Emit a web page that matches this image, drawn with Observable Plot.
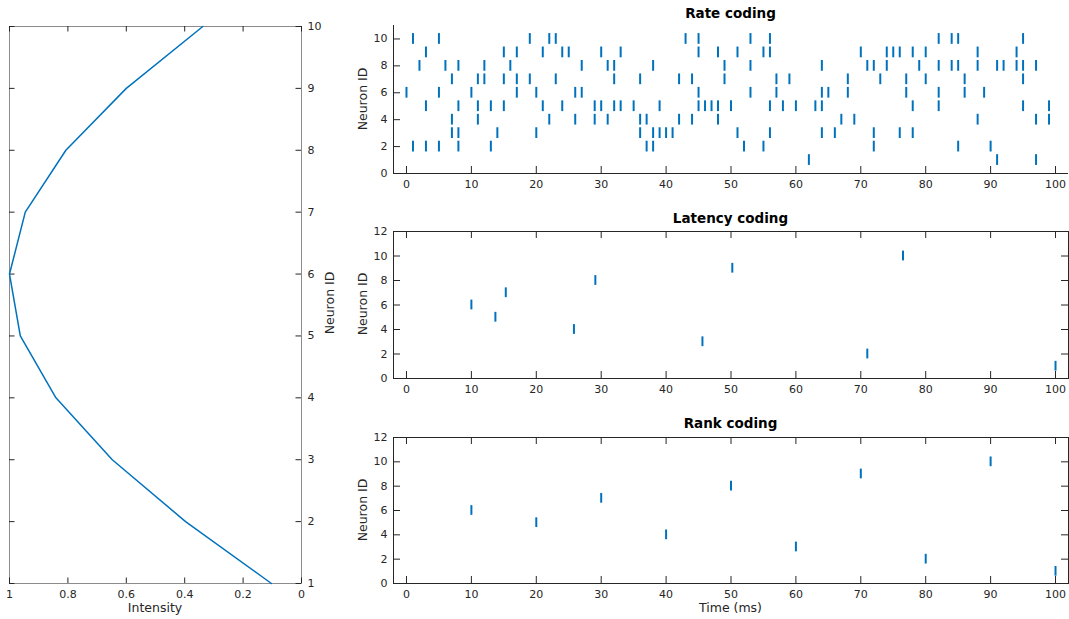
<!DOCTYPE html>
<html><head><meta charset="utf-8">
<script src="https://cdn.jsdelivr.net/npm/d3@7"></script>
<script src="https://cdn.jsdelivr.net/npm/@observablehq/plot@0.6"></script>
<style>
body{margin:0;background:#fff;}
#fig{position:relative;width:1069px;height:619px;overflow:hidden;font-family:"DejaVu Sans",sans-serif;background:#fff;}
.t{position:absolute;white-space:nowrap;line-height:1;color:#262626;transform:translate(-50%,-50%);}
.title{font-weight:bold;font-size:13.5px;color:#000;}
.lab{font-size:12.5px;}
.rot{transform:translate(-50%,-50%) rotate(-90deg);}
</style></head><body><div id="fig"></div>
<script>
// ---------- data ----------
const neuronIds = [1, 2, 3, 4, 5, 6, 7, 8, 9, 10];
const intensity = [0.103, 0.397, 0.648, 0.841, 0.963, 1.0, 0.946, 0.807, 0.600, 0.338];

// Rate coding spike times (ms) for each neuron
const rateN1 = [62, 91, 97];
const rateN2 = [1, 3, 5, 8, 13, 37, 38, 52, 55, 72, 85, 90];
const rateN3 = [7, 8, 14, 20, 36, 38, 39, 40, 41, 51, 56, 64, 66, 72, 76, 78];
const rateN4 = [7, 11, 22, 26, 29, 31, 36, 37, 42, 44, 48, 67, 69, 88, 97, 99];
const rateN5 = [3, 8, 11, 13, 15, 21, 24, 29, 30, 32, 33, 35, 39, 45, 46, 47, 48, 50, 56, 58, 60, 63, 64, 78, 82, 95, 99];
const rateN6 = [0, 5, 10, 17, 20, 26, 27, 45, 53, 57, 64, 65, 68, 77, 82, 86, 89];
const rateN7 = [7, 11, 12, 15, 17, 19, 23, 32, 36, 42, 44, 49, 57, 59, 68, 73, 77, 80, 86, 95];
const rateN8 = [2, 6, 8, 12, 16, 27, 31, 32, 38, 49, 53, 64, 71, 72, 74, 79, 82, 84, 85, 88, 91, 92, 94, 95, 97];
const rateN9 = [3, 15, 17, 21, 24, 25, 30, 33, 45, 48, 51, 55, 56, 70, 74, 75, 76, 78, 80, 88, 94];
const rateN10 = [1, 5, 19, 22, 23, 43, 45, 53, 56, 82, 84, 85, 95];

// Latency / rank coding: one spike time per neuron (neurons 1..10)
const latencyTimes = [100, 71, 45.6, 25.8, 13.7, 10, 15.3, 29.1, 50.2, 76.5];
const rankTimes = [100, 80, 60, 40, 20, 10, 30, 50, 70, 90];

// Ticks
const timeTicks = [0, 10, 20, 30, 40, 50, 60, 70, 80, 90, 100];
const rateYTicks = [0, 2, 4, 6, 8, 10];
const codeYTicks = [0, 2, 4, 6, 8, 10, 12];
const intensityTicks = [0, 0.2, 0.4, 0.6, 0.8, 1];
const neuronTicks = [1, 2, 3, 4, 5, 6, 7, 8, 9, 10];

const timeDomain = [-2, 102];
const rateYDomain = [0, 11];
const codeYDomain = [0, 12];

// ---------- build ----------
const fig = document.getElementById("fig");
const blue = "#0072BD", axisColor = "#262626";
const styleBase = {fontFamily: "DejaVu Sans, sans-serif", fontSize: "11px", color: "#262626", background: "transparent", overflow: "visible"};
const plain = d => String(d);

function place(svg, L, T, ml, mt) {
  svg.style.position = "absolute";
  svg.style.left = (L - ml) + "px";
  svg.style.top = (T - mt) + "px";
  fig.appendChild(svg);
}
function addText(txt, x, y, cls) {
  const d = document.createElement("div");
  d.className = "t " + cls;
  d.textContent = txt;
  d.style.left = x + "px";
  d.style.top = y + "px";
  fig.appendChild(d);
}

const rateRows = [rateN1, rateN2, rateN3, rateN4, rateN5, rateN6, rateN7, rateN8, rateN9, rateN10];
const rateSpikes = rateRows.flatMap((times, i) => times.map(t => ({t, n: neuronIds[i]})));
const latencySpikes = latencyTimes.map((t, i) => ({t, n: neuronIds[i]}));
const rankSpikes = rankTimes.map((t, i) => ({t, n: neuronIds[i]}));

function spikePanel(spikes, yDomain, yTicks, box, L, T, W, H) {
  const ml = 40, mr = 10, mt = 10, mb = 25, tk = 7;
  const marks = [
    Plot.tickX(timeTicks, {x: d => d, insetTop: H - tk, stroke: axisColor}),
    Plot.tickY(yTicks, {y: d => d, insetRight: W - tk, stroke: axisColor}),
    Plot.axisX(timeTicks, {tickSize: 0, tickPadding: 7, label: null, tickFormat: plain}),
    Plot.axisY(yTicks, {tickSize: 0, tickPadding: 6, label: null, tickFormat: plain}),
  ];
  if (box) {
    marks.push(
      Plot.tickX(timeTicks, {x: d => d, insetBottom: H - tk, stroke: axisColor}),
      Plot.tickY(yTicks, {y: d => d, insetLeft: W - tk, stroke: axisColor}),
      Plot.frame({stroke: axisColor})
    );
  } else {
    marks.push(
      Plot.ruleX([timeDomain[0]], {x: d => d, stroke: axisColor}),
      Plot.ruleY([yDomain[0]], {y: d => d, stroke: axisColor})
    );
  }
  marks.push(Plot.ruleX(spikes, {x: "t", y1: d => d.n - 0.4, y2: d => d.n + 0.4, stroke: blue, strokeWidth: 2}));
  const svg = Plot.plot({
    width: W + ml + mr, height: H + mt + mb,
    marginLeft: ml, marginRight: mr, marginTop: mt, marginBottom: mb,
    style: styleBase,
    x: {domain: timeDomain, label: null},
    y: {domain: yDomain, label: null},
    marks
  });
  place(svg, L, T, ml, mt);
}

// Left panel: intensity profile
(function () {
  const L = 9, T = 26, W = 292, H = 557;
  const ml = 10, mr = 30, mt = 10, mb = 25, tk = 5.5;
  const profile = neuronIds.map((n, i) => ({neuron: n, intensity: intensity[i]}));
  const svg = Plot.plot({
    width: W + ml + mr, height: H + mt + mb,
    marginLeft: ml, marginRight: mr, marginTop: mt, marginBottom: mb,
    style: styleBase,
    x: {domain: [0, 1], reverse: true, label: null},
    y: {domain: [1, 10], label: null},
    marks: [
      Plot.frame({stroke: "#8c8c8c"}),
      Plot.tickX(intensityTicks, {x: d => d, insetTop: H - tk, stroke: axisColor}),
      Plot.tickX(intensityTicks, {x: d => d, insetBottom: H - tk, stroke: axisColor}),
      Plot.tickY(neuronTicks, {y: d => d, insetRight: W - tk, stroke: axisColor}),
      Plot.tickY(neuronTicks, {y: d => d, insetLeft: W - tk, stroke: axisColor}),
      Plot.axisX(intensityTicks, {tickSize: 0, tickPadding: 7, label: null, tickFormat: plain}),
      Plot.axisY(neuronTicks, {anchor: "right", tickSize: 0, tickPadding: 6, label: null, tickFormat: plain}),
      Plot.line(profile, {x: "intensity", y: "neuron", stroke: blue, strokeWidth: 1.5})
    ]
  });
  place(svg, L, T, ml, mt);
  addText("Intensity", 155, 608, "lab");
  addText("Neuron ID", 330, 303, "lab rot");
})();

spikePanel(rateSpikes, rateYDomain, rateYTicks, false, 393, 25, 675, 148);
spikePanel(latencySpikes, codeYDomain, codeYTicks, true, 393, 231, 675, 147);
spikePanel(rankSpikes, codeYDomain, codeYTicks, true, 393, 437, 675, 146);

addText("Rate coding", 730.5, 14, "title");
addText("Latency coding", 730.5, 219, "title");
addText("Rank coding", 730.5, 424, "title");
addText("Neuron ID", 363, 99, "lab rot");
addText("Neuron ID", 363, 304, "lab rot");
addText("Neuron ID", 363, 510, "lab rot");
addText("Time (ms)", 730.5, 608, "lab");
</script></body></html>
